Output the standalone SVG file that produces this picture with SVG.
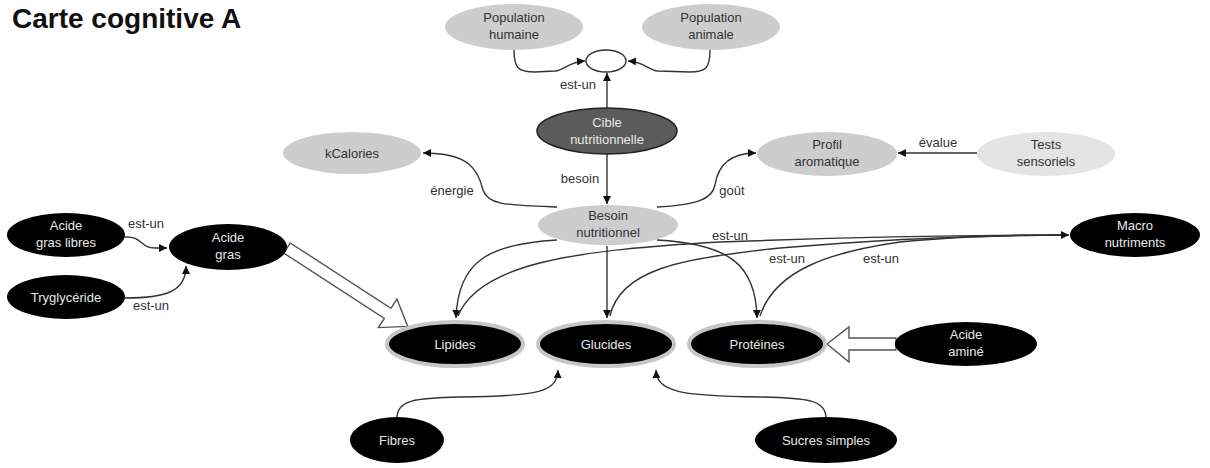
<svg xmlns="http://www.w3.org/2000/svg" width="1210" height="468" viewBox="0 0 1210 468">
<style>
text{font-family:"Liberation Sans",Arial,sans-serif;font-size:13px;text-anchor:middle}
.title{font-size:28px;font-weight:bold;text-anchor:start;fill:#111}
.lg{fill:#cdcdcd}
.xl{fill:#e4e4e4}
.dk{fill:#5b5b5b;stroke:#222;stroke-width:1.5}
.bk{fill:#000}
.halo{fill:#000;stroke:#c6c6c6;stroke-width:4}
.ring{fill:#fff;stroke:#333;stroke-width:1.4}
.tg{fill:#333}
.tw{fill:#e8e8e8}
.lbl{fill:#333}
.c{fill:none;stroke:#333;stroke-width:1.4}
.fat{fill:#fff;stroke:#555;stroke-width:1.4}
</style>
<defs>
<marker id="ah" viewBox="0 0 10 10" refX="10" refY="5" markerWidth="9" markerHeight="8" markerUnits="userSpaceOnUse" orient="auto">
<path d="M0,0 L10,5 L0,10 z" fill="#111"/>
</marker>
</defs>
<rect width="1210" height="468" fill="#fff"/>
<text class="title" x="12" y="28">Carte cognitive A</text>

<g id="connectors">
<path class="c" marker-end="url(#ah)" d="M514,50 C514,68 518,72 535,72 L555,71 C565,70 568,62 585,61"/>
<path class="c" marker-end="url(#ah)" d="M710,50 C710,68 706,72 690,72 L658,71 C648,70 645,62 628,61"/>
<path class="c" marker-end="url(#ah)" d="M607,108 L607,73"/>
<path class="c" marker-end="url(#ah)" d="M607,154 L607,204"/>
<path class="c" marker-end="url(#ah)" d="M557,207 C505,205 488,205 483,190 C478,170 470,153 423,153"/>
<path class="c" marker-end="url(#ah)" d="M657,207 C695,205 712,200 715,185 C718,165 730,153 756,153"/>
<path class="c" marker-end="url(#ah)" d="M977,153 L898,153"/>
<path class="c" marker-end="url(#ah)" d="M125,237 C142,236 140,248 155,248 L167,248"/>
<path class="c" marker-end="url(#ah)" d="M125,298 C165,298 186,292 186,266"/>
<path class="c" marker-end="url(#ah)" d="M557,240 C490,244 458,260 456,318"/>
<path class="c" marker-end="url(#ah)" d="M607,246 L607,318"/>
<path class="c" marker-end="url(#ah)" d="M657,240 C730,244 756,265 757,318"/>
<path class="c" d="M458,316 C480,262 580,250 720,242 C880,236 1000,235 1068,235"/>
<path class="c" d="M610,316 C620,270 680,258 780,248 C900,238 1000,235 1068,235"/>
<path class="c" marker-end="url(#ah)" d="M760,316 C775,270 830,252 900,242 C960,236 1020,235 1069,235"/>
<path class="c" marker-end="url(#ah)" d="M397,418 C397,400 415,398 460,397 C540,396 557,392 558,370"/>
<path class="c" marker-end="url(#ah)" d="M826,418 C826,400 808,398 760,397 C680,396 657,392 656,370"/>
<polygon class="fat" transform="translate(287,248) rotate(33)" points="0,-6 120,-6 120,-17 144,0 120,17 120,6 0,6"/>
<polygon class="fat" points="827,344 849,327 849,338 896,338 896,350 849,350 849,362"/>
<text class="lbl" x="578" y="89">est-un</text>
<text class="lbl" x="452" y="195">énergie</text>
<text class="lbl" x="580" y="183">besoin</text>
<text class="lbl" x="732" y="195">goût</text>
<text class="lbl" x="938" y="147">évalue</text>
<text class="lbl" x="146" y="228">est-un</text>
<text class="lbl" x="151" y="310">est-un</text>
<text class="lbl" x="730" y="240">est-un</text>
<text class="lbl" x="787" y="263">est-un</text>
<text class="lbl" x="881" y="263">est-un</text>
</g>

<g id="pop-humaine"><ellipse class="lg" cx="514" cy="27" rx="69" ry="23"/><text class="tg" x="514" y="22">Population</text><text class="tg" x="514" y="39">humaine</text></g>
<g id="pop-animale"><ellipse class="lg" cx="711" cy="27" rx="69" ry="23"/><text class="tg" x="711" y="22">Population</text><text class="tg" x="711" y="39">animale</text></g>
<g id="pop"><ellipse class="ring" cx="606" cy="61" rx="20" ry="11"/></g>
<g id="cible"><ellipse class="dk" cx="607" cy="131" rx="70" ry="23"/><text class="tw" x="607" y="127">Cible</text><text class="tw" x="607" y="144">nutritionnelle</text></g>
<g id="kcal"><ellipse class="lg" cx="352" cy="153" rx="69" ry="21"/><text class="tg" x="352" y="158">kCalories</text></g>
<g id="besoin"><ellipse class="lg" cx="608" cy="225" rx="70" ry="20"/><text class="tg" x="608" y="220">Besoin</text><text class="tg" x="608" y="237">nutritionnel</text></g>
<g id="profil"><ellipse class="lg" cx="827" cy="154" rx="70" ry="22"/><text class="tg" x="827" y="149">Profil</text><text class="tg" x="827" y="166">aromatique</text></g>
<g id="tests"><ellipse class="xl" cx="1046" cy="154" rx="69" ry="22"/><text class="tg" x="1046" y="149">Tests</text><text class="tg" x="1046" y="166">sensoriels</text></g>
<g id="macro"><ellipse class="bk" cx="1135" cy="235" rx="65" ry="22"/><text class="tw" x="1135" y="230">Macro</text><text class="tw" x="1135" y="247">nutriments</text></g>
<g id="agl"><ellipse class="bk" cx="66" cy="235" rx="59" ry="22"/><text class="tw" x="66" y="230">Acide</text><text class="tw" x="66" y="247">gras libres</text></g>
<g id="trygly"><ellipse class="bk" cx="66" cy="297" rx="59" ry="22"/><text class="tw" x="66" y="302">Tryglycéride</text></g>
<g id="acide-gras"><ellipse class="bk" cx="228" cy="247" rx="59" ry="23"/><text class="tw" x="228" y="242">Acide</text><text class="tw" x="228" y="259">gras</text></g>
<g id="lipides"><ellipse class="halo" cx="455" cy="344" rx="68" ry="22"/><text class="tw" x="455" y="349">Lipides</text></g>
<g id="glucides"><ellipse class="halo" cx="606" cy="344" rx="68" ry="22"/><text class="tw" x="606" y="349">Glucides</text></g>
<g id="proteines"><ellipse class="halo" cx="757" cy="344" rx="68" ry="22"/><text class="tw" x="757" y="349">Protéines</text></g>
<g id="acide-amine"><ellipse class="bk" cx="966" cy="344" rx="71" ry="22"/><text class="tw" x="966" y="339">Acide</text><text class="tw" x="966" y="356">aminé</text></g>
<g id="fibres"><ellipse class="bk" cx="397" cy="440" rx="47" ry="23"/><text class="tw" x="397" y="445">Fibres</text></g>
<g id="sucres"><ellipse class="bk" cx="826" cy="440" rx="71" ry="23"/><text class="tw" x="826" y="445">Sucres simples</text></g>
</svg>
